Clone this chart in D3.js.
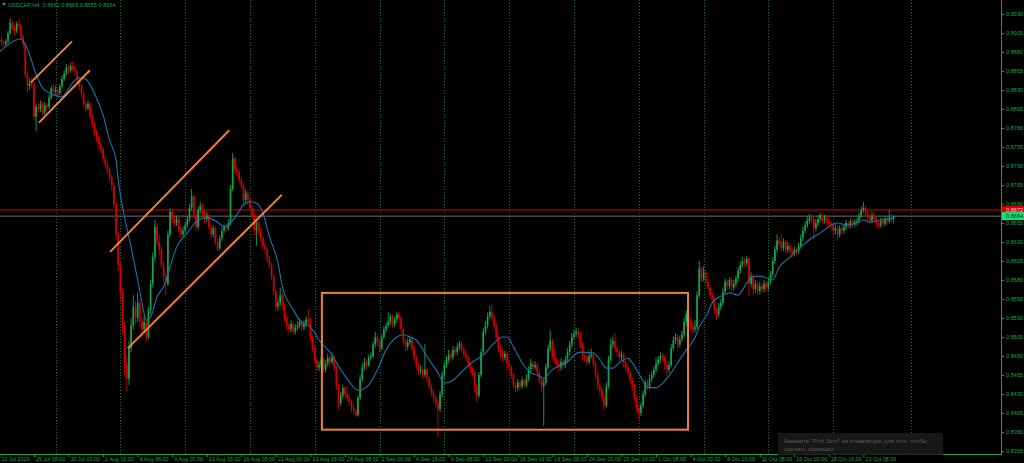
<!DOCTYPE html>
<html><head><meta charset="utf-8">
<script src="https://cdn.jsdelivr.net/npm/d3@7"></script>
<style>html,body{margin:0;padding:0;background:#000;overflow:hidden}svg{display:block}</style>
</head><body><svg id="c" width="1024" height="463"></svg>
<script>
const symbolTitle = "USDCHF,H4";
const titleQuote = ["0.8661", "0.8665", "0.8655", "0.8664"];
const priceTicks = [0.8930,0.8905,0.8880,0.8855,0.8830,0.8805,0.8780,0.8755,0.8730,0.8705,0.8680,0.8655,0.8630,0.8605,0.8580,0.8555,0.8530,0.8505,0.8480,0.8455,0.8430,0.8405,0.8380,0.8355];
const timeLabels = ["12 Jul 2024","25 Jul 08:00","30 Jul 00:00","1 Aug 16:00","6 Aug 08:00","9 Aug 00:00","13 Aug 16:00","16 Aug 08:00","21 Aug 00:00","23 Aug 16:00","28 Aug 08:00","2 Sep 00:00","4 Sep 16:00","9 Sep 08:00","12 Sep 00:00","16 Sep 16:00","19 Sep 08:00","24 Sep 00:00","26 Sep 16:00","1 Oct 08:00","4 Oct 00:00","8 Oct 16:00","11 Oct 08:00","16 Oct 00:00","18 Oct 16:00","23 Oct 08:00"];
const timeLabelBars = [0,16,32,48,64,80,96,112,128,144,160,176,192,208,224,240,256,272,288,304,320,336,352,368,384,400];
const weekGridBars = [26,56,86,116,146,176,206,236,266,296,326,356,386,422];
// candles: [open, high, low, close]
const ohlc = [
[.8893,.8899,.8889,.8896],[.8896,.8900,.8888,.8892],[.8892,.8895,.8886,.8890],[.8890,.8897,.8887,.8894],[.8894,.8908,.8892,.8905],
[.8905,.8924,.8903,.8918],[.8918,.8921,.8908,.8912],[.8912,.8915,.8902,.8908],[.8908,.8920,.8905,.8917],[.8917,.8922,.8910,.8915],
[.8915,.8917,.8896,.8900],[.8900,.8903,.8885,.8890],[.8890,.8892,.8845,.8850],[.8850,.8855,.8827,.8835],[.8835,.8845,.8830,.8840],
[.8840,.8846,.8833,.8838],[.8838,.8840,.8790,.8795],[.8795,.8812,.8776,.8808],[.8808,.8814,.8800,.8805],[.8805,.8816,.8801,.8812],
[.8812,.8815,.8796,.8800],[.8800,.8814,.8797,.8810],[.8810,.8813,.8803,.8808],[.8808,.8824,.8805,.8820],[.8820,.8836,.8817,.8832],
[.8832,.8837,.8823,.8828],[.8828,.8835,.8824,.8830],[.8830,.8833,.8820,.8826],[.8826,.8838,.8823,.8835],[.8835,.8849,.8832,.8845],
[.8845,.8856,.8842,.8852],[.8852,.8864,.8849,.8860],[.8860,.8863,.8851,.8856],[.8856,.8866,.8853,.8862],[.8862,.8868,.8854,.8858],
[.8858,.8862,.8850,.8855],[.8855,.8857,.8840,.8843],[.8843,.8846,.8830,.8835],[.8835,.8838,.8820,.8825],[.8825,.8827,.8808,.8812],
[.8812,.8815,.8802,.8806],[.8806,.8816,.8803,.8812],[.8812,.8814,.8790,.8795],[.8795,.8798,.8780,.8785],[.8785,.8788,.8770,.8775],
[.8775,.8779,.8762,.8768],[.8768,.8771,.8753,.8758],[.8758,.8762,.8747,.8752],[.8752,.8755,.8735,.8740],[.8740,.8744,.8727,.8732],
[.8732,.8735,.8720,.8725],[.8725,.8728,.8710,.8715],[.8715,.8718,.8698,.8705],[.8705,.8708,.8675,.8680],[.8680,.8683,.8632,.8640],
[.8640,.8644,.8592,.8600],[.8600,.8605,.8555,.8565],[.8565,.8570,.8510,.8520],[.8520,.8525,.8455,.8470],[.8470,.8480,.8433,.8450],
[.8450,.8500,.8442,.8490],[.8490,.8530,.8485,.8520],[.8520,.8560,.8515,.8545],[.8545,.8552,.8522,.8530],[.8530,.8563,.8525,.8550],
[.8550,.8555,.8518,.8525],[.8525,.8530,.8505,.8515],[.8515,.8533,.8510,.8525],[.8525,.8528,.8499,.8505],[.8505,.8545,.8502,.8540],
[.8540,.8580,.8535,.8575],[.8575,.8616,.8570,.8610],[.8610,.8659,.8605,.8650],[.8650,.8655,.8625,.8630],[.8630,.8640,.8612,.8620],
[.8620,.8625,.8595,.8600],[.8600,.8605,.8578,.8585],[.8585,.8590,.8560,.8575],[.8575,.8645,.8572,.8640],[.8640,.8675,.8636,.8670],
[.8670,.8674,.8655,.8660],[.8660,.8666,.8650,.8655],[.8655,.8665,.8651,.8660],[.8660,.8663,.8643,.8648],[.8648,.8652,.8636,.8640],
[.8640,.8650,.8637,.8645],[.8645,.8656,.8641,.8652],[.8652,.8664,.8648,.8660],[.8660,.8680,.8656,.8675],[.8675,.8700,.8671,.8690],
[.8690,.8693,.8660,.8665],[.8665,.8668,.8645,.8650],[.8650,.8676,.8647,.8672],[.8672,.8683,.8667,.8678],[.8678,.8681,.8664,.8668],
[.8668,.8672,.8655,.8660],[.8660,.8670,.8656,.8665],[.8665,.8668,.8646,.8650],[.8650,.8654,.8635,.8640],[.8640,.8652,.8636,.8648],
[.8648,.8650,.8625,.8630],[.8630,.8634,.8618,.8622],[.8622,.8639,.8619,.8635],[.8635,.8649,.8631,.8645],[.8645,.8654,.8641,.8650],
[.8650,.8653,.8643,.8648],[.8648,.8660,.8645,.8655],[.8655,.8705,.8652,.8700],[.8700,.8747,.8697,.8740],[.8740,.8743,.8720,.8725],
[.8725,.8730,.8716,.8722],[.8722,.8725,.8707,.8712],[.8712,.8716,.8700,.8705],[.8705,.8708,.8680,.8685],[.8685,.8699,.8681,.8695],
[.8695,.8698,.8680,.8685],[.8685,.8688,.8670,.8675],[.8675,.8678,.8660,.8665],[.8665,.8668,.8638,.8645],[.8645,.8660,.8625,.8655],
[.8655,.8658,.8640,.8645],[.8645,.8649,.8630,.8635],[.8635,.8638,.8620,.8625],[.8625,.8630,.8614,.8620],[.8620,.8623,.8603,.8608],
[.8608,.8612,.8595,.8600],[.8600,.8603,.8580,.8585],[.8585,.8588,.8560,.8565],[.8565,.8568,.8540,.8545],[.8545,.8556,.8540,.8550],
[.8550,.8570,.8546,.8560],[.8560,.8563,.8540,.8545],[.8545,.8548,.8525,.8530],[.8530,.8533,.8514,.8520],[.8520,.8524,.8510,.8515],
[.8515,.8527,.8511,.8522],[.8522,.8525,.8508,.8512],[.8512,.8522,.8508,.8518],[.8518,.8526,.8514,.8520],[.8520,.8530,.8516,.8525],
[.8525,.8528,.8513,.8518],[.8518,.8527,.8514,.8522],[.8522,.8532,.8518,.8528],[.8528,.8541,.8520,.8525],[.8525,.8530,.8500,.8505],
[.8505,.8508,.8485,.8490],[.8490,.8493,.8470,.8475],[.8475,.8478,.8460,.8465],[.8465,.8473,.8460,.8468],[.8468,.8480,.8464,.8475],
[.8475,.8478,.8458,.8462],[.8462,.8475,.8458,.8470],[.8470,.8483,.8466,.8478],[.8478,.8481,.8467,.8472],[.8472,.8485,.8469,.8478],
[.8478,.8481,.8460,.8465],[.8465,.8468,.8435,.8440],[.8440,.8443,.8410,.8418],[.8418,.8433,.8414,.8428],[.8428,.8442,.8424,.8438],
[.8438,.8441,.8425,.8430],[.8430,.8440,.8420,.8425],[.8425,.8429,.8414,.8420],[.8420,.8423,.8406,.8412],[.8412,.8416,.8403,.8408],
[.8408,.8411,.8400,.8402],[.8402,.8428,.8400,.8425],[.8425,.8455,.8422,.8450],[.8450,.8470,.8446,.8465],[.8465,.8478,.8461,.8472],
[.8472,.8476,.8463,.8468],[.8468,.8482,.8465,.8478],[.8478,.8485,.8474,.8480],[.8480,.8499,.8477,.8495],[.8495,.8512,.8491,.8505],
[.8505,.8508,.8493,.8498],[.8498,.8501,.8485,.8490],[.8490,.8509,.8487,.8505],[.8505,.8519,.8502,.8515],[.8515,.8524,.8511,.8520],
[.8520,.8537,.8517,.8525],[.8525,.8535,.8521,.8532],[.8532,.8534,.8517,.8522],[.8522,.8532,.8518,.8528],[.8528,.8538,.8524,.8535],
[.8535,.8538,.8525,.8530],[.8530,.8532,.8510,.8515],[.8515,.8518,.8495,.8500],[.8500,.8504,.8487,.8492],[.8492,.8503,.8488,.8498],
[.8498,.8507,.8494,.8502],[.8502,.8505,.8485,.8490],[.8490,.8493,.8473,.8478],[.8478,.8481,.8463,.8468],[.8468,.8471,.8455,.8460],
[.8460,.8468,.8456,.8462],[.8462,.8466,.8450,.8455],[.8455,.8496,.8452,.8462],[.8462,.8465,.8445,.8450],[.8450,.8453,.8435,.8440],
[.8440,.8443,.8427,.8432],[.8432,.8436,.8419,.8425],[.8425,.8428,.8413,.8418],[.8418,.8421,.8373,.8410],[.8410,.8434,.8406,.8430],
[.8430,.8459,.8426,.8455],[.8455,.8472,.8452,.8468],[.8468,.8480,.8464,.8475],[.8475,.8488,.8471,.8482],[.8482,.8486,.8473,.8478],
[.8478,.8493,.8475,.8488],[.8488,.8492,.8480,.8485],[.8485,.8497,.8481,.8492],[.8492,.8500,.8488,.8496],[.8496,.8499,.8484,.8488],
[.8488,.8491,.8477,.8482],[.8482,.8486,.8473,.8478],[.8478,.8481,.8466,.8470],[.8470,.8473,.8457,.8462],[.8462,.8466,.8453,.8458],
[.8458,.8461,.8432,.8440],[.8440,.8443,.8420,.8428],[.8428,.8459,.8425,.8455],[.8455,.8489,.8452,.8485],[.8485,.8517,.8482,.8512],
[.8512,.8526,.8508,.8520],[.8520,.8537,.8516,.8532],[.8532,.8546,.8528,.8538],[.8538,.8548,.8525,.8530],[.8530,.8534,.8515,.8520],
[.8520,.8523,.8500,.8505],[.8505,.8508,.8485,.8490],[.8490,.8495,.8478,.8485],[.8485,.8489,.8472,.8478],[.8478,.8487,.8474,.8483],
[.8483,.8486,.8462,.8470],[.8470,.8474,.8460,.8465],[.8465,.8468,.8450,.8455],[.8455,.8458,.8437,.8442],[.8442,.8446,.8432,.8438],
[.8438,.8450,.8434,.8445],[.8445,.8448,.8435,.8440],[.8440,.8453,.8437,.8448],[.8448,.8451,.8438,.8442],[.8442,.8456,.8439,.8450],
[.8450,.8467,.8447,.8462],[.8462,.8476,.8458,.8470],[.8470,.8474,.8461,.8465],[.8465,.8473,.8462,.8468],[.8468,.8471,.8453,.8458],
[.8458,.8461,.8443,.8448],[.8448,.8451,.8432,.8440],[.8440,.8450,.8388,.8445],[.8445,.8470,.8442,.8465],[.8465,.8495,.8462,.8490],
[.8490,.8514,.8486,.8500],[.8500,.8503,.8475,.8480],[.8480,.8490,.8470,.8475],[.8475,.8478,.8464,.8470],[.8470,.8474,.8460,.8465],
[.8465,.8477,.8461,.8472],[.8472,.8476,.8463,.8468],[.8468,.8480,.8464,.8475],[.8475,.8490,.8471,.8485],[.8485,.8500,.8481,.8495],
[.8495,.8510,.8491,.8505],[.8505,.8515,.8501,.8510],[.8510,.8517,.8505,.8512],[.8512,.8516,.8503,.8508],[.8508,.8511,.8490,.8495],
[.8495,.8498,.8475,.8480],[.8480,.8485,.8473,.8478],[.8478,.8482,.8468,.8472],[.8472,.8485,.8469,.8480],[.8480,.8490,.8476,.8482],
[.8482,.8485,.8465,.8470],[.8470,.8473,.8450,.8455],[.8455,.8458,.8435,.8440],[.8440,.8444,.8428,.8435],[.8435,.8438,.8420,.8425],
[.8425,.8428,.8409,.8415],[.8415,.8445,.8412,.8440],[.8440,.8480,.8437,.8475],[.8475,.8503,.8471,.8495],[.8495,.8505,.8490,.8500],
[.8500,.8510,.8485,.8490],[.8490,.8494,.8480,.8485],[.8485,.8488,.8473,.8478],[.8478,.8487,.8474,.8482],[.8482,.8485,.8465,.8470],
[.8470,.8474,.8460,.8465],[.8465,.8468,.8453,.8458],[.8458,.8461,.8443,.8448],[.8448,.8451,.8434,.8440],[.8440,.8443,.8420,.8425],
[.8425,.8428,.8406,.8412],[.8412,.8415,.8396,.8405],[.8405,.8419,.8401,.8415],[.8415,.8434,.8411,.8430],[.8430,.8449,.8426,.8445],
[.8445,.8449,.8435,.8440],[.8440,.8455,.8436,.8450],[.8450,.8460,.8446,.8455],[.8455,.8467,.8451,.8462],[.8462,.8478,.8458,.8470],
[.8470,.8480,.8466,.8475],[.8475,.8485,.8471,.8480],[.8480,.8484,.8473,.8478],[.8478,.8481,.8462,.8470],[.8470,.8473,.8455,.8462],
[.8462,.8473,.8458,.8468],[.8468,.8496,.8465,.8490],[.8490,.8506,.8486,.8500],[.8500,.8510,.8496,.8505],[.8505,.8508,.8490,.8495],
[.8495,.8507,.8491,.8502],[.8502,.8513,.8498,.8508],[.8508,.8530,.8505,.8525],[.8525,.8540,.8520,.8535],[.8535,.8538,.8523,.8528],
[.8528,.8531,.8515,.8520],[.8520,.8524,.8510,.8515],[.8515,.8527,.8511,.8518],[.8518,.8565,.8514,.8560],[.8560,.8605,.8556,.8595],
[.8595,.8598,.8577,.8582],[.8582,.8598,.8578,.8590],[.8590,.8593,.8573,.8578],[.8578,.8582,.8565,.8570],[.8570,.8573,.8555,.8560],
[.8560,.8565,.8548,.8555],[.8555,.8558,.8535,.8540],[.8540,.8544,.8528,.8535],[.8535,.8550,.8531,.8545],[.8545,.8555,.8540,.8550],
[.8550,.8569,.8546,.8565],[.8565,.8582,.8561,.8578],[.8578,.8581,.8567,.8572],[.8572,.8584,.8568,.8580],[.8580,.8583,.8565,.8570],
[.8570,.8580,.8566,.8575],[.8575,.8586,.8571,.8582],[.8582,.8597,.8578,.8592],[.8592,.8605,.8588,.8600],[.8600,.8610,.8596,.8605],
[.8605,.8609,.8597,.8602],[.8602,.8612,.8598,.8608],[.8608,.8610,.8560,.8575],[.8575,.8590,.8570,.8585],[.8585,.8588,.8560,.8568],
[.8568,.8580,.8563,.8575],[.8575,.8578,.8560,.8565],[.8565,.8577,.8561,.8572],[.8572,.8576,.8562,.8568],[.8568,.8580,.8564,.8575],
[.8575,.8579,.8565,.8570],[.8570,.8583,.8566,.8578],[.8578,.8592,.8574,.8588],[.8588,.8610,.8584,.8605],[.8605,.8625,.8601,.8620],
[.8620,.8640,.8616,.8632],[.8632,.8637,.8623,.8628],[.8628,.8640,.8617,.8622],[.8622,.8635,.8618,.8630],[.8630,.8633,.8615,.8620],
[.8620,.8630,.8616,.8625],[.8625,.8628,.8613,.8618],[.8618,.8622,.8610,.8615],[.8615,.8624,.8611,.8620],[.8620,.8623,.8613,.8618],
[.8618,.8629,.8614,.8625],[.8625,.8640,.8621,.8635],[.8635,.8650,.8631,.8645],[.8645,.8657,.8641,.8652],[.8652,.8664,.8648,.8658],
[.8658,.8667,.8654,.8662],[.8662,.8666,.8655,.8660],[.8660,.8663,.8633,.8648],[.8648,.8660,.8644,.8655],[.8655,.8665,.8651,.8660],
[.8660,.8669,.8656,.8665],[.8665,.8668,.8654,.8658],[.8658,.8666,.8654,.8662],[.8662,.8665,.8652,.8657],[.8657,.8661,.8650,.8655],
[.8655,.8659,.8647,.8652],[.8652,.8655,.8640,.8645],[.8645,.8653,.8640,.8648],[.8648,.8651,.8632,.8640],[.8640,.8652,.8636,.8648],
[.8648,.8652,.8640,.8645],[.8645,.8654,.8641,.8650],[.8650,.8659,.8646,.8655],[.8655,.8658,.8648,.8652],[.8652,.8661,.8648,.8657],
[.8657,.8660,.8649,.8653],[.8653,.8660,.8650,.8656],[.8656,.8662,.8652,.8658],[.8658,.8669,.8655,.8665],[.8665,.8677,.8661,.8672],
[.8672,.8683,.8668,.8675],[.8675,.8678,.8664,.8668],[.8668,.8671,.8657,.8662],[.8662,.8665,.8653,.8658],[.8658,.8670,.8655,.8665],
[.8665,.8668,.8656,.8660],[.8660,.8663,.8650,.8655],[.8655,.8658,.8648,.8652],[.8652,.8662,.8649,.8658],[.8658,.8661,.8650,.8654],
[.8654,.8664,.8651,.8660],[.8660,.8663,.8652,.8657],[.8657,.8672,.8654,.8662],[.8662,.8666,.8656,.8661],[.8661,.8665,.8655,.8664]
];
const maBars = [0,10,14,17,20,23,27,29,31,34,37,40,42,45,48,51,54,55,57,61,64,66,68,70,73,76,79,82,87,92,96,101,104,107,110,113,116,119,122,125,129,131,136,139,144,148,154,158,162,166,170,175,179,184,187,190,193,198,203,206,210,215,219,224,229,233,235,238,242,246,249,252,256,260,263,266,269,275,278,281,284,287,291,293,297,300,304,307,311,314,318,322,324,328,330,335,338,342,344,348,351,354,358,361,366,371,375,380,385,388,392,397,400,403,408,414];
const maValues = [.8880,.8897,.8876,.8850,.8833,.8826,.8822,.8821,.8827,.8840,.8846,.8844,.8837,.8819,.8797,.8764,.8738,.8712,.8676,.8623,.8580,.8550,.8527,.8531,.8558,.8571,.8597,.8623,.8642,.8659,.8662,.8656,.8650,.8655,.8666,.8679,.8683,.8681,.8668,.8637,.8602,.8571,.8541,.8527,.8518,.8501,.8481,.8462,.8446,.8435,.8439,.8462,.8488,.8505,.8508,.8505,.8501,.8479,.8458,.8444,.8448,.8462,.8472,.8481,.8497,.8505,.8505,.8492,.8471,.8458,.8455,.8451,.8462,.8468,.8472,.8481,.8485,.8484,.8475,.8464,.8464,.8471,.8477,.8471,.8452,.8439,.8438,.8444,.8458,.8471,.8488,.8504,.8518,.8537,.8550,.8560,.8563,.8560,.8567,.8583,.8585,.8584,.8580,.8597,.8610,.8623,.8633,.8642,.8652,.8655,.8652,.8655,.8659,.8656,.8659,.8661];
const levelPrices = [0.8672, 0.8664];
const trendLines = [
  [[14.6, 0.8840], [33.6, 0.8894]],
  [[18.3, 0.8787], [41.9, 0.8856]],
  [[51.2, 0.8617], [106.4, 0.8777]],
  [[59.4, 0.8490], [130.7, 0.8692]]
];
const rangeBoxBars = [149.3, 318.8];
const rangeBoxPrices = [0.8563, 0.8383];
const hintLines = ["Нажмите \"Prnt Scrn\" на клавиатуре для того, чтобы", "сделать скриншот"];

const W = 1024, H = 463, axisX = 1001, axisY = 454;
const FG = "#17a34e", GRID = "#0b7a3a", BULL = "#12a451", BEAR = "#d40000", MA = "#1a73a8", ORANGE = "#f0803c";
const FONT = "'Liberation Sans', Arial, sans-serif";
const svg = d3.select("#c");
svg.append("rect").attr("width", W).attr("height", H).attr("fill", "#000");

const x = d3.scaleLinear().domain([0, 415]).range([-0.6, 895.8]);
const y = d3.scaleLinear().domain([0.8351, 0.89484]).range([axisY, 0]);

const plot = svg.append("g");
// week grid
plot.selectAll("line.grid").data(weekGridBars).join("line")
  .attr("x1", d => Math.round(x(d)) + 0.5).attr("x2", d => Math.round(x(d)) + 0.5)
  .attr("y1", 0).attr("y2", axisY)
  .attr("stroke", GRID).attr("stroke-width", 1).attr("stroke-dasharray", "1,2");

// level lines
plot.selectAll("line.lvl").data(levelPrices).join("line")
  .attr("x1", 0).attr("x2", axisX).attr("y1", d => y(d)).attr("y2", d => y(d))
  .attr("stroke", (d, i) => i === 0 ? "#8c0000" : "#6e6e6e").attr("stroke-width", (d, i) => i === 0 ? 1.4 : 1);

// candles
const cg = plot.append("g");
cg.selectAll("line.wick").data(ohlc).join("line")
  .attr("x1", (d, i) => x(i)).attr("x2", (d, i) => x(i))
  .attr("y1", d => y(d[1])).attr("y2", d => y(d[2]))
  .attr("stroke", d => d[3] >= d[0] ? BULL : BEAR).attr("stroke-width", 0.9);
cg.selectAll("rect.body").data(ohlc).join("rect")
  .attr("x", (d, i) => x(i) - 0.85).attr("width", 1.7)
  .attr("y", d => y(Math.max(d[0], d[3])))
  .attr("height", d => Math.max(0.8, Math.abs(y(d[0]) - y(d[3]))))
  .attr("fill", d => d[3] >= d[0] ? BULL : BEAR);

// moving average
const maPts = maBars.map((b, i) => [b, maValues[i]]);
plot.append("path").datum(maPts)
  .attr("d", d3.line().x(d => x(d[0])).y(d => y(d[1])).curve(d3.curveMonotoneX))
  .attr("fill", "none").attr("stroke", MA).attr("stroke-width", 1.1);

// trend lines
plot.selectAll("line.trend").data(trendLines).join("line")
  .attr("x1", d => x(d[0][0])).attr("y1", d => y(d[0][1]))
  .attr("x2", d => x(d[1][0])).attr("y2", d => y(d[1][1]))
  .attr("stroke", ORANGE).attr("stroke-width", 2);
plot.append("rect")
  .attr("x", x(rangeBoxBars[0])).attr("y", y(rangeBoxPrices[0]))
  .attr("width", x(rangeBoxBars[1]) - x(rangeBoxBars[0]))
  .attr("height", y(rangeBoxPrices[1]) - y(rangeBoxPrices[0]))
  .attr("fill", "none").attr("stroke", ORANGE).attr("stroke-width", 2);

// right axis
const ra = svg.append("g").attr("transform", `translate(${axisX},0)`)
  .call(d3.axisRight(y).tickValues(priceTicks).tickFormat(d3.format(".4f")).tickSize(3).tickPadding(2));
ra.select(".domain").attr("stroke", FG).attr("d", `M0.5,0V${axisY}`);
ra.selectAll(".tick line").attr("stroke", FG);
ra.selectAll(".tick text").attr("fill", FG).attr("font-family", FONT).attr("font-size", 5.6);

// bottom axis
const ba = svg.append("g").attr("transform", `translate(0,${axisY})`)
  .call(d3.axisBottom(x).tickValues(timeLabelBars).tickFormat((d, i) => timeLabels[i]).tickSize(3).tickPadding(1));
ba.select(".domain").attr("stroke", FG).attr("d", `M0,0.5H${axisX + 1}`);
ba.selectAll(".tick line").attr("stroke", FG);
ba.selectAll(".tick text").attr("fill", FG).attr("font-family", FONT).attr("font-size", 5.4)
  .attr("text-anchor", "start").attr("x", 1.5).attr("dy", "0.6em");
ba.selectAll(".tick").filter(d => d === 0).attr("transform", "translate(0,0)");

// price labels on the axis
const lbl = svg.append("g");
levelPrices.forEach((p, i) => {
  lbl.append("rect").attr("x", axisX + 1).attr("y", y(p) - 4).attr("width", 22).attr("height", 8)
    .attr("fill", i === 0 ? "#d80000" : "#19e07a");
  lbl.append("text").attr("x", axisX + 5).attr("y", y(p) + 2.2).text(d3.format(".4f")(p))
    .attr("fill", i === 0 ? "#ffd0d0" : "#003010").attr("font-family", FONT).attr("font-size", 5.6);
});

// title
svg.append("path").attr("d", "M2,3L6,3L4,6Z").attr("fill", FG);
svg.append("text").attr("x", 8).attr("y", 7).attr("fill", FG).attr("font-family", FONT).attr("font-size", 5.6)
  .attr("xml:space", "preserve")
  .text(symbolTitle + "  " + titleQuote.join(" "));

// hint box
const hb = svg.append("g");
hb.append("rect").attr("x", 778).attr("y", 433).attr("width", 165).attr("height", 22).attr("fill", "#1b1b1b").attr("opacity", 0.85);
hintLines.forEach((t, i) => hb.append("text").attr("x", 784).attr("y", 443 + i * 8).text(t)
  .attr("fill", "#5a5a5a").attr("font-family", FONT).attr("font-size", 6));
</script>
</body></html>
